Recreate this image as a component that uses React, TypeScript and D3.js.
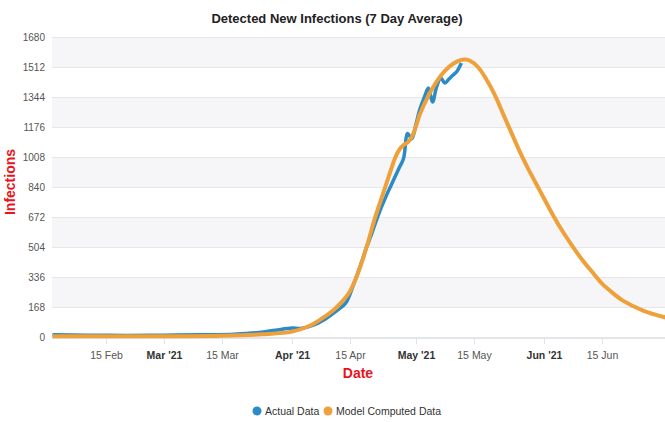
import { useEffect, useRef } from 'react'
import * as d3 from 'd3'

const actualDates = [
    '2021-02-02', '2021-02-10', '2021-02-20', '2021-03-01', '2021-03-10', '2021-03-18',
    '2021-03-24', '2021-03-28', '2021-04-01', '2021-04-03', '2021-04-06', '2021-04-09',
    '2021-04-12', '2021-04-14', '2021-04-16', '2021-04-18', '2021-04-19', '2021-04-20',
    '2021-04-22', '2021-04-24', '2021-04-25', '2021-04-26', '2021-04-27', '2021-04-28',
    '2021-04-29', '2021-04-30', '2021-05-01', '2021-05-02', '2021-05-03', '2021-05-04',
    '2021-05-05', '2021-05-06', '2021-05-07', '2021-05-08', '2021-05-09', '2021-05-10',
    '2021-05-11', '2021-05-12',
]
const actualValues = [
    12, 10, 9, 10, 12, 16,
    25, 38, 50, 48, 65, 100,
    150, 190, 300, 430, 500, 560,
    690, 800, 850, 900, 950, 1000,
    1140, 1110, 1190, 1280, 1340, 1394,
    1316, 1400, 1450, 1422, 1445, 1467,
    1490, 1534,
]

const modelDates = [
    '2021-02-02', '2021-03-01', '2021-03-15', '2021-03-25', '2021-04-01', '2021-04-05',
    '2021-04-08', '2021-04-11', '2021-04-13', '2021-04-15', '2021-04-17', '2021-04-19',
    '2021-04-21', '2021-04-23', '2021-04-24', '2021-04-25', '2021-04-26', '2021-04-27',
    '2021-04-28', '2021-04-29', '2021-04-30', '2021-05-01', '2021-05-02', '2021-05-04',
    '2021-05-06', '2021-05-08', '2021-05-10', '2021-05-12', '2021-05-13', '2021-05-14',
    '2021-05-16', '2021-05-18', '2021-05-20', '2021-05-22', '2021-05-24', '2021-05-26',
    '2021-05-28', '2021-05-31', '2021-06-03', '2021-06-05', '2021-06-08', '2021-06-10',
    '2021-06-13', '2021-06-15', '2021-06-18', '2021-06-20', '2021-06-25', '2021-07-01',
]
const modelValues = [
    4, 4, 7, 15, 30, 60,
    100, 150, 195, 255, 360, 500,
    660, 800, 870, 940, 1005, 1050,
    1075, 1090, 1120, 1180, 1250, 1350,
    1430, 1490, 1530, 1552, 1554, 1548,
    1512, 1445, 1360, 1255, 1150, 1045,
    950, 820, 690, 610, 505, 440,
    355, 300, 240, 205, 148, 106,
]

const yTicks = [0, 168, 336, 504, 672, 840, 1008, 1176, 1344, 1512, 1680]
const xTickDates = ['2021-02-15', '2021-03-01', '2021-03-15', '2021-04-01', '2021-04-15', '2021-05-01', '2021-05-15', '2021-06-01', '2021-06-15']
const xTickLabels = ['15 Feb', "Mar '21", '15 Mar', "Apr '21", '15 Apr', "May '21", '15 May', "Jun '21", '15 Jun']
const xTickBold = [false, true, false, true, false, true, false, true, false]

const seriesNames = ['Actual Data', 'Model Computed Data']
const seriesColors = ['#2b8bc6', '#eea03a']

const App = () => {
    const ref = useRef<SVGSVGElement | null>(null)

    useEffect(() => {
        if (!ref.current) return
        const width = 665
        const height = 422
        const font = '"Liberation Sans", Arial, sans-serif'
        const parse = d3.timeParse('%Y-%m-%d')

        const svg = d3.select(ref.current)
        svg.selectAll('*').remove()
        svg.attr('width', width).attr('height', height)

        const x = d3
            .scaleTime()
            .domain([parse('2021-02-02')!, parse('2021-07-01')!])
            .range([52.5, 52.5 + 149 * 4.13])
        const y = d3.scaleLinear().domain([0, 1680]).range([337, 37])

        // alternate bands
        const bands = svg.append('g')
        for (let i = 1; i < yTicks.length - 1; i += 2) {
            bands
                .append('rect')
                .attr('x', 52)
                .attr('width', width - 52)
                .attr('y', y(yTicks[i + 1]))
                .attr('height', y(yTicks[i]) - y(yTicks[i + 1]))
                .attr('fill', '#f6f6f8')
        }

        svg.append('g')
            .selectAll('line')
            .data(yTicks)
            .join('line')
            .attr('x1', 52)
            .attr('x2', width)
            .attr('y1', d => Math.round(y(d)) + 0.5)
            .attr('y2', d => Math.round(y(d)) + 0.5)
            .attr('stroke', '#e6e6e6')

        svg.append('g')
            .selectAll('text')
            .data(yTicks)
            .join('text')
            .attr('x', 45)
            .attr('y', d => y(d) + 3.5)
            .attr('text-anchor', 'end')
            .attr('font-family', font)
            .attr('font-size', 10)
            .attr('fill', '#555')
            .text(d => d)

        // x axis
        svg.append('line')
            .attr('x1', 52)
            .attr('x2', width)
            .attr('y1', 338.5)
            .attr('y2', 338.5)
            .attr('stroke', '#dfe3ea')
        const xt = svg.append('g')
        xTickDates.forEach((d, i) => {
            const px = Math.round(x(parse(d)!)) + 0.5
            xt.append('line')
                .attr('x1', px)
                .attr('x2', px)
                .attr('y1', 338)
                .attr('y2', 344)
                .attr('stroke', '#dfe3ea')
            xt.append('text')
                .attr('x', px)
                .attr('y', 359)
                .attr('text-anchor', 'middle')
                .attr('font-family', font)
                .attr('font-size', 10.5)
                .attr('font-weight', xTickBold[i] ? 'bold' : 'normal')
                .attr('fill', xTickBold[i] ? '#333' : '#555')
                .text(xTickLabels[i])
        })

        const line = d3
            .line<[Date, number]>()
            .x(d => x(d[0]))
            .y(d => y(d[1]))
            .curve(d3.curveCatmullRom.alpha(0.5))

        const actual: [Date, number][] = actualDates.map((d, i) => [parse(d)!, actualValues[i]])
        const model: [Date, number][] = modelDates.map((d, i) => [parse(d)!, modelValues[i]])

        svg.append('path')
            .datum(actual)
            .attr('d', line)
            .attr('fill', 'none')
            .attr('stroke', seriesColors[0])
            .attr('stroke-width', 3.5)
            .attr('stroke-linejoin', 'round')
        svg.append('path')
            .datum(model)
            .attr('d', line)
            .attr('fill', 'none')
            .attr('stroke', seriesColors[1])
            .attr('stroke-width', 4)
            .attr('stroke-linejoin', 'round')

        // titles
        svg.append('text')
            .attr('x', 337)
            .attr('y', 23)
            .attr('text-anchor', 'middle')
            .attr('font-family', font)
            .attr('font-size', 13)
            .attr('font-weight', 'bold')
            .attr('fill', '#222')
            .text('Detected New Infections (7 Day Average)')
        svg.append('text')
            .attr('x', 358)
            .attr('y', 378)
            .attr('text-anchor', 'middle')
            .attr('font-family', font)
            .attr('font-size', 14)
            .attr('font-weight', 'bold')
            .attr('fill', '#e8141c')
            .text('Date')
        svg.append('text')
            .attr('transform', 'translate(15,182) rotate(-90)')
            .attr('text-anchor', 'middle')
            .attr('font-family', font)
            .attr('font-size', 14)
            .attr('font-weight', 'bold')
            .attr('fill', '#e8141c')
            .text('Infections')

        // legend
        const legendX = [257, 328]
        seriesNames.forEach((name, i) => {
            svg.append('circle')
                .attr('cx', legendX[i])
                .attr('cy', 411)
                .attr('r', 4.5)
                .attr('fill', seriesColors[i])
            svg.append('text')
                .attr('x', legendX[i] + 8)
                .attr('y', 415)
                .attr('font-family', font)
                .attr('font-size', 10.5)
                .attr('fill', '#333')
                .text(name)
        })
    }, [])

    return (
        <div>
            <svg ref={ref} style={{ position: 'absolute', left: 0, top: 0 }}></svg>
        </div>
    )
}

export default App
